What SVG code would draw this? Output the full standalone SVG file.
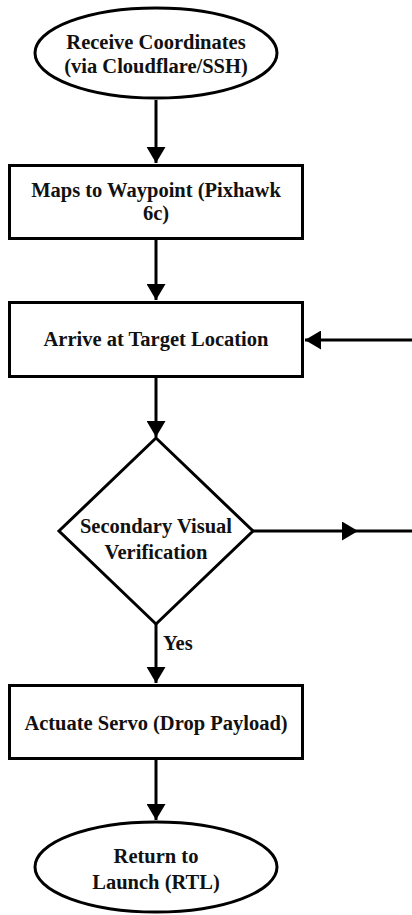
<svg xmlns="http://www.w3.org/2000/svg" width="412" height="915" viewBox="0 0 412 915">
<defs>
<style>
.shape{fill:#ffffff;stroke:#000000;stroke-width:3}
.edge{fill:none;stroke:#000000;stroke-width:3}
.lbl{font-family:"Liberation Serif","Times New Roman",serif;font-weight:bold;font-size:20.5px;fill:#111111;text-anchor:middle}
.yes{text-anchor:start}
</style>
<marker id="arr" markerUnits="userSpaceOnUse" markerWidth="17" markerHeight="19" refX="16" refY="9.5" orient="auto">
<path d="M0,0 L16,9.5 L0,19 z" fill="#000"/>
</marker>
</defs>
<rect width="412" height="915" fill="#ffffff"/>
<g id="connectors">
<line class="edge" x1="156" y1="100" x2="156" y2="163" marker-end="url(#arr)"/>
<line class="edge" x1="156" y1="240" x2="156" y2="300" marker-end="url(#arr)"/>
<line class="edge" x1="156" y1="377" x2="156" y2="437" marker-end="url(#arr)"/>
<line class="edge" x1="412" y1="340" x2="305" y2="340" marker-end="url(#arr)"/>
<path class="edge" d="M253,531 L358,531 L412,531" marker-mid="url(#arr)"/>
<line class="edge" x1="156" y1="624" x2="156" y2="683" marker-end="url(#arr)"/>
<line class="edge" x1="156" y1="760" x2="156" y2="820" marker-end="url(#arr)"/>
<text class="lbl yes" x="163" y="650">Yes</text>
</g>
<g id="start">
<ellipse class="shape" cx="156" cy="53" rx="121" ry="45"/>
<text class="lbl" x="156" y="49">Receive Coordinates</text>
<text class="lbl" x="156" y="73">(via Cloudflare/SSH)</text>
</g>
<g id="waypoint">
<rect class="shape" x="9.5" y="165.5" width="293" height="73"/>
<text class="lbl" x="156" y="197">Maps to Waypoint (Pixhawk</text>
<text class="lbl" x="156" y="220">6c)</text>
</g>
<g id="arrive">
<rect class="shape" x="9.5" y="302.5" width="293" height="74"/>
<text class="lbl" x="156" y="346">Arrive at Target Location</text>
</g>
<g id="verify">
<polygon class="shape" points="156,438 253,531 156,624 59,531"/>
<text class="lbl" x="156" y="533">Secondary Visual</text>
<text class="lbl" x="156" y="559">Verification</text>
</g>
<g id="servo">
<rect class="shape" x="9.5" y="685.5" width="293" height="73"/>
<text class="lbl" x="156" y="730">Actuate Servo (Drop Payload)</text>
</g>
<g id="rtl">
<ellipse class="shape" cx="156" cy="867" rx="121" ry="45"/>
<text class="lbl" x="156" y="863">Return to</text>
<text class="lbl" x="156" y="889">Launch (RTL)</text>
</g>
</svg>
